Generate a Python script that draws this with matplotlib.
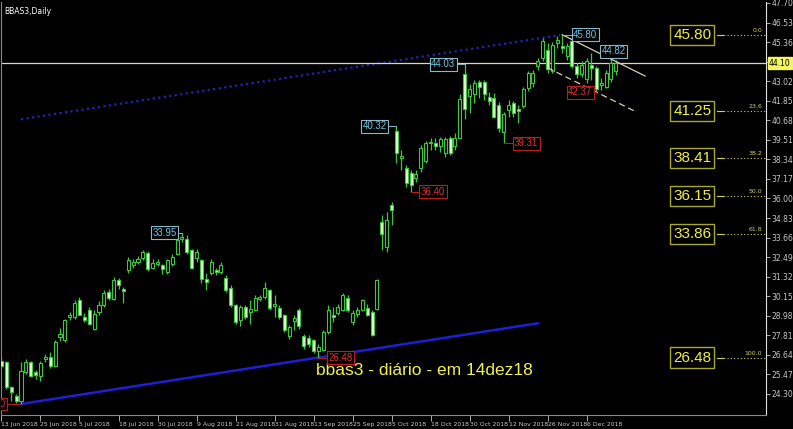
import numpy as np
import matplotlib
matplotlib.use("Agg")
import matplotlib.pyplot as plt
import matplotlib.transforms as mtransforms

# daily candles, BBAS3, 13 Jun 2018 .. 14 Dec 2018
opens = [26.30, 26.20, 24.70, 24.15, 23.85, 25.60, 26.20, 25.60, 25.40, 26.40,
         26.50, 25.95, 27.70, 27.50, 28.90, 28.90, 29.90, 28.90, 29.30, 28.20,
         29.20, 29.65, 30.40, 30.00, 31.10, 30.60, 31.70, 32.00, 32.20, 32.45,
         32.75, 31.85, 32.10, 32.00, 31.60, 32.05, 32.70, 33.60, 33.60, 32.90,
         32.45, 32.30, 31.20, 31.55, 31.70, 31.60, 31.25, 30.65, 29.65, 28.75,
         29.50, 29.20, 29.35, 30.00, 30.10, 30.50, 29.55, 29.45, 29.00, 27.75,
         28.65, 29.30, 27.75, 27.65, 27.55, 26.85, 26.95, 28.00, 29.00, 29.15,
         29.35, 30.05, 28.60, 29.10, 29.35, 29.45, 29.20, 29.40, 34.60, 33.10,
         35.60, 40.05, 38.40, 37.80, 37.55, 37.20, 37.80, 38.25, 39.30, 39.35,
         39.15, 38.70, 39.60, 39.15, 39.60, 43.45, 42.15, 42.25, 42.95, 42.95,
         42.05, 42.00, 41.60, 40.00, 41.30, 41.70, 41.35, 41.55, 42.60, 42.90,
         43.90, 44.40, 44.90, 43.60, 45.30, 45.10, 44.50, 45.40, 43.90, 43.45,
         43.15, 44.00, 43.80, 42.80, 42.70, 43.15, 43.60]
highs = [26.50, 26.30, 24.80, 24.30, 26.20, 26.40, 26.30, 25.75, 26.30, 26.70,
         26.80, 27.50, 28.25, 28.80, 29.20, 29.90, 30.10, 29.15, 29.50, 29.30,
         29.85, 30.50, 30.60, 31.30, 31.25, 30.70, 32.50, 32.35, 32.55, 32.90,
         32.85, 32.40, 32.35, 32.10, 32.40, 32.70, 33.60, 33.95, 33.80, 33.00,
         33.00, 32.40, 31.55, 32.35, 31.85, 32.20, 31.40, 30.80, 29.70, 29.60,
         29.60, 29.90, 30.20, 30.25, 31.00, 30.60, 30.20, 29.60, 29.10, 28.45,
         29.05, 29.45, 27.90, 27.80, 27.60, 27.30, 28.10, 29.60, 29.50, 29.70,
         30.35, 30.20, 29.35, 29.50, 30.00, 29.70, 29.30, 31.20, 35.00, 35.20,
         35.80, 40.32, 38.90, 38.00, 37.70, 37.70, 39.20, 39.45, 39.60, 39.60,
         39.70, 39.70, 39.75, 39.90, 42.25, 44.03, 42.85, 43.10, 43.10, 43.10,
         42.40, 42.30, 41.80, 41.20, 41.90, 41.85, 41.60, 42.70, 43.65, 43.70,
         44.40, 45.60, 45.30, 45.35, 45.70, 45.80, 45.30, 45.50, 44.10, 44.20,
         44.40, 44.70, 43.90, 43.20, 43.70, 44.82, 44.30]
lows = [25.80, 24.60, 23.90, 23.75, 23.70, 25.50, 25.30, 25.20, 25.10, 26.20,
        25.85, 25.90, 27.45, 27.40, 28.75, 28.80, 29.00, 28.60, 28.40, 28.10,
        29.00, 29.50, 29.95, 29.90, 30.60, 29.75, 31.55, 31.85, 32.10, 32.30,
        31.65, 31.75, 31.95, 31.50, 31.50, 31.95, 32.60, 33.40, 32.70, 31.75,
        32.20, 30.95, 30.50, 31.40, 31.40, 31.50, 30.40, 29.50, 28.50, 28.35,
        28.80, 28.50, 29.25, 29.85, 30.00, 29.30, 28.90, 28.80, 28.00, 27.60,
        28.10, 28.20, 27.00, 27.10, 26.75, 26.48, 26.90, 27.90, 28.60, 29.00,
        29.25, 29.20, 28.40, 28.90, 29.25, 28.95, 27.75, 29.30, 32.90, 32.80,
        34.40, 38.10, 37.70, 36.70, 36.40, 37.00, 37.60, 38.10, 38.90, 38.90,
        38.80, 38.50, 38.60, 38.90, 39.60, 40.77, 41.10, 41.70, 42.00, 41.90,
        41.60, 40.80, 40.00, 39.31, 40.90, 40.85, 40.50, 41.40, 42.45, 42.70,
        43.70, 44.20, 43.50, 43.50, 45.00, 44.70, 44.30, 43.80, 43.20, 43.30,
        42.90, 43.10, 42.37, 42.50, 42.60, 43.00, 43.40]
closes = [25.95, 24.70, 24.40, 23.90, 25.65, 26.20, 25.40, 25.45, 26.15, 26.50,
          25.95, 27.40, 27.90, 28.70, 29.00, 29.75, 29.05, 28.75, 28.50, 29.10,
          29.60, 30.35, 30.05, 31.10, 30.80, 30.45, 32.30, 32.20, 32.40, 32.80,
          31.75, 32.15, 32.20, 31.75, 32.30, 32.50, 33.50, 33.70, 32.80, 31.85,
          32.80, 31.20, 31.00, 32.20, 31.60, 32.00, 30.50, 29.65, 28.60, 29.50,
          28.90, 29.40, 30.05, 30.10, 30.65, 29.45, 29.70, 28.90, 28.15, 28.30,
          28.85, 28.35, 27.15, 27.30, 26.85, 27.10, 28.00, 29.30, 28.90, 29.50,
          30.20, 29.35, 29.15, 29.30, 29.90, 29.05, 27.85, 31.10, 33.85, 34.70,
          35.30, 38.70, 38.55, 36.90, 36.80, 37.45, 39.00, 39.30, 39.40, 39.15,
          39.55, 39.55, 38.70, 39.60, 41.95, 41.35, 42.55, 42.90, 42.70, 42.25,
          41.85, 40.90, 40.20, 41.05, 41.60, 41.10, 41.25, 42.55, 43.50, 43.50,
          44.20, 45.40, 43.75, 45.20, 45.50, 45.00, 45.10, 43.90, 43.45, 44.00,
          44.20, 43.80, 42.55, 42.90, 43.50, 44.10, 44.10]

date_ticks = ["13 Jun 2018", "25 Jun 2018", "5 Jul 2018", "18 Jul 2018", "30 Jul 2018",
              "9 Aug 2018", "21 Aug 2018", "31 Aug 2018", "13 Sep 2018", "25 Sep 2018",
              "5 Oct 2018", "18 Oct 2018", "30 Oct 2018", "12 Nov 2018", "26 Nov 2018",
              "6 Dec 2018"]
price_ticks = [47.70, 46.53, 45.36, 44.19, 43.02, 41.85, 40.68, 39.51, 38.34, 37.17,
               36.00, 34.83, 33.66, 32.49, 31.32, 30.15, 28.98, 27.81, 26.64, 25.47, 24.30]
last_price = 44.10

# swing labels: bar index, high/low, box offset in bars
swing_bar = [4, 37, 65, 81, 84, 95, 103, 115, 122, 125]
swing_kind = ["low", "high", "low", "high", "low", "high", "low", "high", "low", "high"]
swing_shift = [-5.7, -3.5, 4.6, -4.4, 4.5, -4.4, 4.6, 4.7, -3.3, 0.6]

fib_pct = ["0.0", "23.6", "38.2", "50.0", "61.8", "100.0"]
fib_price = [45.80, 41.25, 38.41, 36.15, 33.86, 26.48]

o = np.array(opens); h = np.array(highs); l = np.array(lows); c = np.array(closes)
idx = np.arange(len(o))

fig = plt.figure(figsize=(7.93, 4.29), dpi=100, facecolor="black")
ax = fig.add_axes([1 / 793, 14 / 429, 765 / 793, 413 / 429])
ax.set_facecolor("black")
ax.set_xlim(-0.1, 156.8)
ax.set_ylim(23.04, 47.70 + 1 / 16.75)

green = "#3cc83c"
up = c >= o
ax.vlines(idx, l, h, color=green, lw=0.9, zorder=3)
body = np.maximum(np.abs(c - o), 0.04)
ax.bar(idx[up], body[up], bottom=np.minimum(o, c)[up], width=0.62,
       facecolor="black", edgecolor=green, lw=0.8, zorder=4)
ax.bar(idx[~up], body[~up], bottom=np.minimum(o, c)[~up], width=0.62,
       facecolor="#e2f8d4", edgecolor=green, lw=0.8, zorder=4)

# long channel (blue), through the 23.70 and 26.48 lows
slope = (lows[65] - lows[4]) / (65 - 4)
xs = np.array([4, 110])
ax.plot(xs, lows[4] + slope * (xs - 4), color="#1e1ed2", lw=1.8, zorder=2)
shift = highs[115] - (lows[4] + slope * (115 - 4))
xs = np.array([4, 114.6])
ax.plot(xs, lows[4] + slope * (xs - 4) + shift, color="#2424b4", lw=1.6,
        ls=(0, (1, 1.5)), zorder=2)

# short falling channel
s2 = (43.33 - highs[115]) / (132 - 115)
xs = np.array([115, 132])
ax.plot(xs, highs[115] + s2 * (xs - 115), color="#d8d0b0", lw=0.9, zorder=5)
xs = np.array([112, 130])
ax.plot(xs, lows[122] + s2 * (xs - 122), color="#d8d0b0", lw=0.9,
        ls=(0, (5, 3)), zorder=5)

# bid line
ax.axhline(last_price, color="#d8d8c0", lw=0.9, zorder=2)

# swing labels
for b, kind, dx in zip(swing_bar, swing_kind, swing_shift):
    p = highs[b] if kind == "high" else lows[b]
    col = "#6ec6e6" if kind == "high" else "#e03030"
    ec = "#8ab8c8" if kind == "high" else "#b82020"
    ax.plot([b, b + dx], [p, p], color=ec, lw=0.7, zorder=5)
    ax.text(b + dx, p, f"{p:.2f}", color=col, fontsize=7, ha="center", va="center",
            family="Liberation Sans", zorder=7, clip_on=True,
            bbox=dict(boxstyle="square,pad=0.15", fc="black", ec=ec, lw=0.8))

# fibonacci levels
fx = 141.7
for pct, fp in zip(fib_pct, fib_price):
    ax.plot([fx + 5.0, 156.8], [fp, fp], color="#d0d060", lw=0.8, ls=(0, (1, 2)), zorder=2)
    ax.plot([fx + 5.0, fx + 6.2], [fp, fp], color="#d0d060", lw=0.8, zorder=2)
    ax.text(fx, fp, f"{fp:.2f}", color="#f0f040", fontsize=11, ha="center", va="center",
            family="Liberation Sans", zorder=7,
            bbox=dict(boxstyle="square,pad=0.2", fc="black", ec="#a8a830", lw=1.0))
    ax.text(156.0, fp + 0.12, pct, color="#d0d060", fontsize=4.5, ha="right",
            va="bottom", zorder=7)

# axes furniture
ax.yaxis.tick_right()
ax.set_yticks(price_ticks)
ax.set_yticklabels(["" if abs(v - last_price) < 0.2 else f"{v:.2f}" for v in price_ticks])
ax.set_xticks(np.arange(len(date_ticks)) * 8)
ax.set_xticklabels(date_ticks)
for t in ax.get_xticklabels():
    t.set_horizontalalignment("left")
ax.tick_params(axis="y", colors="#c8c8c8", labelsize=5.5, length=3, width=0.6, pad=1)
ax.tick_params(axis="x", colors="#c8c8c8", labelsize=4.4, length=4, width=0.6, pad=1)
for side in ["left", "bottom", "top"]:
    ax.spines[side].set_color("#8a8a8a")
ax.spines["right"].set_color("#e0e0e0")
ax.spines["top"].set_visible(False)

tr = mtransforms.blended_transform_factory(ax.transAxes, ax.transData)
ax.text(1.004, last_price, f"{last_price:.2f}", transform=tr, color="black", fontsize=5.5,
        ha="left", va="center", clip_on=False, zorder=8,
        bbox=dict(boxstyle="square,pad=0.15", fc="#f4f460", ec="#f4f460"))

ax.text(0.004, 0.988, "BBAS3,Daily", transform=ax.transAxes, color="white",
        fontsize=5.5, ha="left", va="top")
ax.text(0.554, 0.108, "bbas3 - diário - em 14dez18", transform=ax.transAxes,
        color="#f0f050", fontsize=12.5, family="Liberation Sans",
        ha="center", va="center")

fig.savefig("out.png", dpi=100, facecolor="black")
